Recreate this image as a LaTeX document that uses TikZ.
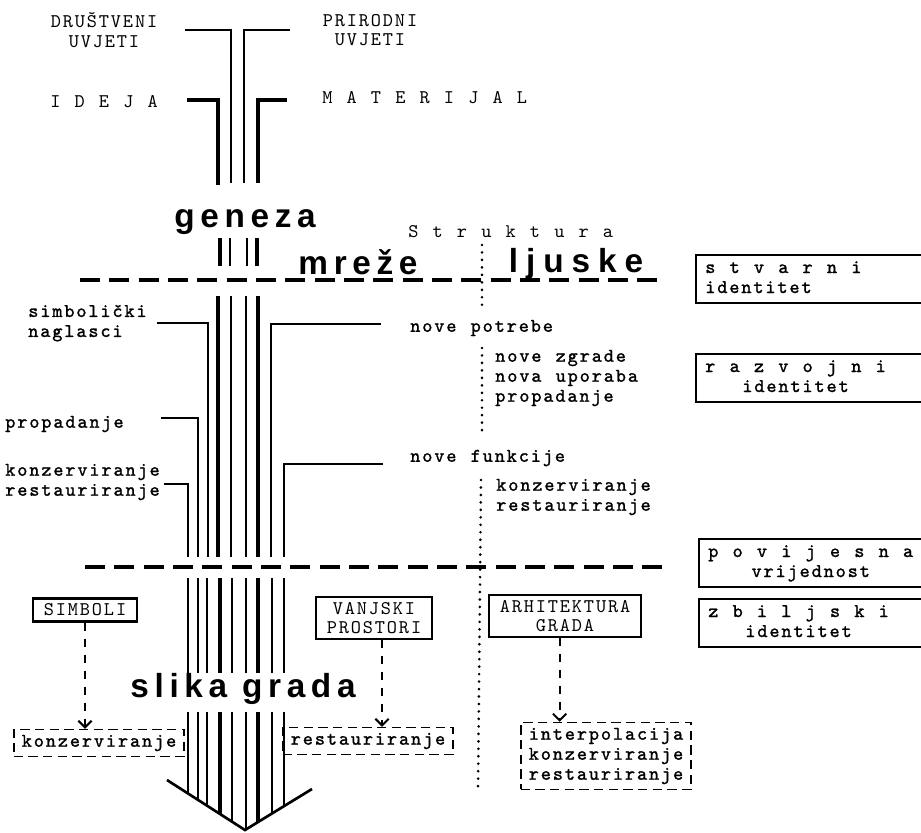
\documentclass[tikz,border=0pt]{standalone}
\usepackage{fontspec}
\newfontfamily\typefont[LetterSpace=9.7, WordSpace=1.18]{lmmono10-regular.otf}
\newfontfamily\typeheavy[LetterSpace=9.7, WordSpace=1.18, FakeBold=1.3]{lmmono10-regular.otf}
\newfontfamily\headfont[LetterSpace=17]{Liberation Sans}
\usetikzlibrary{arrows.meta}

\begin{document}
\begin{tikzpicture}[
  x=0.75pt, y=-0.75pt,
  caps/.style={font=\typefont\fontsize{14.5}{14.8}\selectfont, align=center, inner sep=0pt},
  lower/.style={font=\typeheavy\fontsize{14.5}{15}\selectfont, align=left, inner sep=0pt, anchor=west},
  big/.style={font=\headfont\bfseries\fontsize{25}{25}\selectfont, inner sep=0pt, anchor=base},
  idbox/.style={draw, line width=1.4pt, font=\typeheavy\fontsize{14.5}{15}\selectfont, anchor=west, minimum height=36pt, inner xsep=7pt, inner ysep=0pt},
  namebox/.style={draw, line width=1.6pt, font=\typefont\fontsize{14.5}{14.8}\selectfont, align=center, inner xsep=8pt, inner ysep=4pt},
  resbox/.style={draw, line width=1.2pt, dash pattern=on 7pt off 4pt, font=\typeheavy\fontsize{14.5}{15}\selectfont, align=left, inner xsep=6pt, inner ysep=4pt},
  link/.style={line width=1.5pt, dash pattern=on 6pt off 6pt, -{Straight Barb[length=5pt,width=10pt]}},
  divider/.style={line width=3pt, dash pattern=on 15pt off 7pt},
  dotline/.style={line width=2.2pt, line cap=round, dash pattern=on 0pt off 5.6pt},
  strand/.style={line width=1.6pt},
  core/.style={line width=3.6pt}
]
\useasboundingbox (0,0) rectangle (921,832);
\clip (0,0) rectangle (921,832);

\node[caps] (social) at (104,30) {DRUŠTVENI\\UVJETI};
\node[caps] (natural) at (370,30) {PRIRODNI\\UVJETI};
\node[caps, anchor=west] (idea) at (50,102) {I D E J A};
\node[caps, anchor=west] (matter) at (322,98) {M A T E R I J A L};
\draw[strand, line width=2pt] (185,30) -- (231,30) -- (231,183);
\draw[strand, line width=2pt] (290,30) -- (244,30) -- (244,183);
\draw[core] (187,100) -- (218,100) -- (218,185);
\draw[core] (287,100) -- (258,100) -- (258,183);

\node[big] (genesis) at (245,227) {geneza};
\foreach \x/\w in {220/3.6, 230/1.6, 247/1.6, 257/3.6}
  \draw[line width=\w pt] (\x,238) -- (\x,266);
\node[big] (nets) at (358,274) {mreže};
\node[caps, anchor=base west] (structure) at (408,237) {S t r u k t u r a};
\node[big] (shells) at (576,272) {\addfontfeature{LetterSpace=24}ljuske};

\draw[divider] (80,280) -- (665,280);
\draw[divider] (85,567) -- (665,567);
\draw[dotline] (482,245) -- (482,312);
\draw[dotline] (482,348) -- (482,437);
\draw[dotline] (481,480) -- (478,793);

\foreach \x/\w in {218/3.6, 231/1.6, 246/1.6, 258/3.6}
  \draw[line width=\w pt] (\x,296) -- (\x,557);
\node[lower] (accent) at (28,323) {simbolički\\naglasci};
\draw[strand] ([xshift=7.5pt]accent.east) -| (208,557);
\node[lower] (decay) at (5,424) {propadanje};
\draw[strand] ([xshift=28pt]decay.east) ++(0,-6) -| (198,557);
\node[lower] (care) at (5,482) {konzerviranje\\restauriranje};
\draw[strand] ([xshift=3pt]care.east) ++(0,2) -| (188,557);
\node[lower] (needs) at (410,328) {nove potrebe};
\draw[strand] ([xshift=-22pt]needs.west) ++(0,-4) -| (271,557);
\node[lower] (changes) at (495,378) {nove zgrade\\nova uporaba\\propadanje};
\node[lower] (uses) at (410,458) {nove funkcije};
\draw[strand] ([xshift=-20pt]uses.west) ++(0,6) -| (284,557);
\node[lower] (repair) at (496,497) {konzerviranje\\restauriranje};

\foreach \x/\w/\e in {188/1.6/793, 198/1.6/800, 207/1.6/806, 220/3.6/814, 232/1.8/822, 246/1.8/829, 258/3.6/822, 272/1.8/813, 284/1.6/806} {
  \draw[line width=\w pt] (\x,578) -- (\x,673);
  \draw[line width=\w pt] (\x,712) -- (\x,\e);
}
\node[big] (image) at (243,697) {slika grada};
\draw[line width=2pt] (167,780) -- (245,830) -- (312,789);

\node[namebox] (symbols) at (85,610) {SIMBOLI};
\node[namebox] (outdoor) at (374,618) {VANJSKI\\PROSTORI};
\node[namebox] (architecture) at (565,616) {ARHITEKTURA\\GRADA};
\node[resbox] (conserve) at (99,743) {konzerviranje};
\node[resbox] (restore) at (368,741) {restauriranje};
\node[resbox] (measures) at (606,756) {interpolacija\\konzerviranje\\restauriranje};
\draw[link] (symbols) -- (symbols |- conserve.north);
\draw[link] ([xshift=6pt]outdoor.south) -- ([xshift=6pt]outdoor.south |- restore.north);
\draw[link] ([xshift=-4pt]architecture.south) -- ([xshift=-4pt]architecture.south |- measures.north);

\node[idbox] (actual) at (695,279) {\begin{tabular}{@{}l@{}}s t v a r n i\\identitet\end{tabular}\hspace*{100pt}};
\node[idbox] (growth) at (695,378) {\begin{tabular}{@{}c@{}}r a z v o j n i\\identitet\end{tabular}\hspace*{100pt}};
\node[idbox] (history) at (698,563) {\begin{tabular}{@{}c@{}}p o v i j e s n a\\vrijednost\end{tabular}\hspace*{100pt}};
\node[idbox] (real) at (698,623) {\begin{tabular}{@{}c@{}}z b i l j s k i\\identitet\end{tabular}\hspace*{100pt}};
\end{tikzpicture}
\end{document}
